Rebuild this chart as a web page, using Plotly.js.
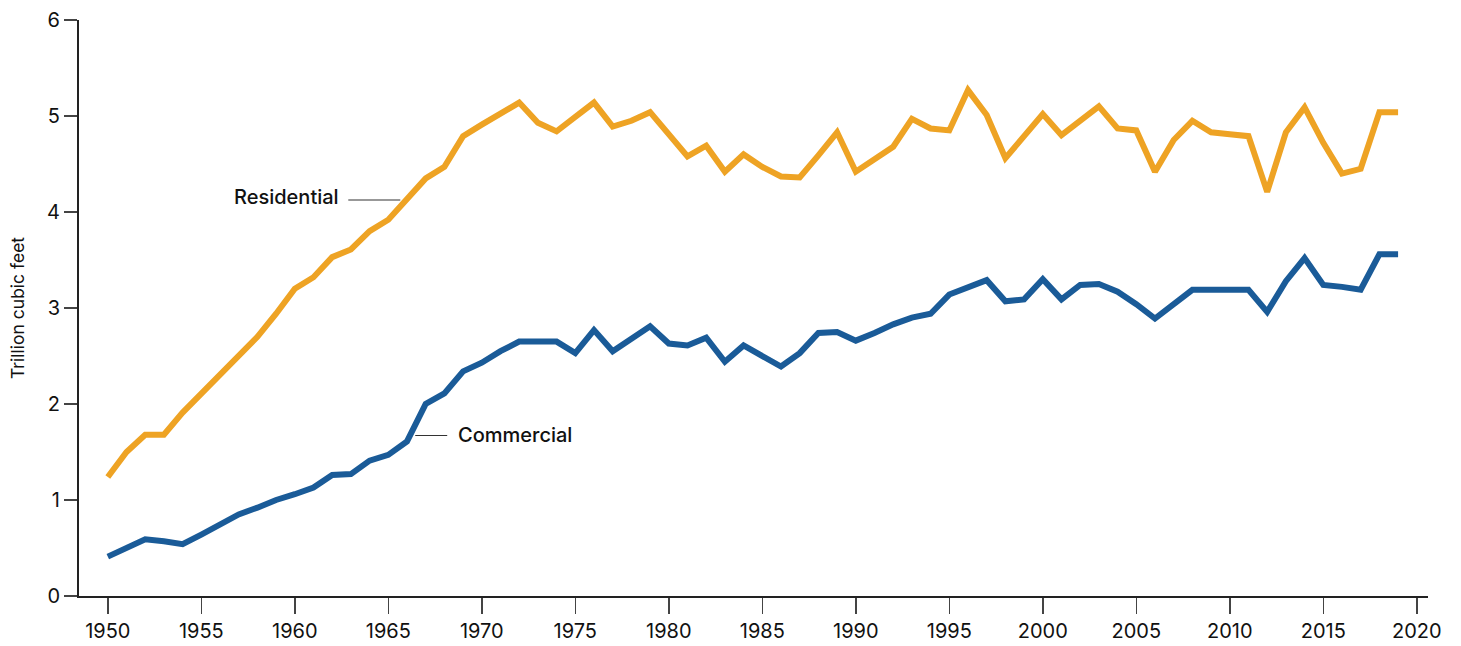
<!DOCTYPE html>
<html>
<head>
<meta charset="utf-8">
<script src="https://cdn.plot.ly/plotly-3.0.1.min.js"></script>
<style>html,body{margin:0;padding:0;background:#fff;}#chart{width:1461px;height:646px;}</style>
</head>
<body>
<div id="chart"></div>
<script>
const years = [1950,1951,1952,1953,1954,1955,1956,1957,1958,1959,1960,1961,1962,1963,1964,1965,1966,1967,1968,1969,1970,1971,1972,1973,1974,1975,1976,1977,1978,1979,1980,1981,1982,1983,1984,1985,1986,1987,1988,1989,1990,1991,1992,1993,1994,1995,1996,1997,1998,1999,2000,2001,2002,2003,2004,2005,2006,2007,2008,2009,2010,2011,2012,2013,2014,2015,2016,2017,2018,2019];
const residential = [1.24,1.50,1.68,1.68,1.91,2.11,2.32,2.51,2.70,2.94,3.20,3.32,3.53,3.61,3.80,3.92,4.14,4.35,4.47,4.79,4.91,5.02,5.14,4.93,4.84,4.99,5.14,4.89,4.95,5.04,4.80,4.58,4.69,4.42,4.60,4.47,4.37,4.36,4.59,4.83,4.42,4.55,4.68,4.97,4.87,4.85,5.27,5.01,4.56,4.79,5.02,4.80,4.95,5.10,4.87,4.85,4.42,4.75,4.95,4.83,4.81,4.79,4.21,4.83,5.09,4.72,4.40,4.45,5.04,5.04];
const commercial = [0.41,0.50,0.59,0.57,0.54,0.64,0.74,0.85,0.92,1.00,1.06,1.13,1.26,1.27,1.41,1.47,1.61,2.00,2.11,2.34,2.43,2.55,2.65,2.65,2.65,2.53,2.77,2.55,2.68,2.81,2.63,2.61,2.69,2.44,2.61,2.50,2.39,2.53,2.74,2.75,2.66,2.74,2.83,2.90,2.94,3.14,3.21,3.29,3.07,3.09,3.30,3.09,3.24,3.25,3.17,3.04,2.89,3.05,3.19,3.19,3.19,3.19,2.96,3.28,3.52,3.24,3.22,3.19,3.56,3.56];
const xTicks = [1950,1955,1960,1965,1970,1975,1980,1985,1990,1995,2000,2005,2010,2015,2020];
const yTicks = [0,1,2,3,4,5,6];
const seriesNames = ['Residential','Commercial'];
const yTitle = 'Trillion cubic feet';

const FONT = 'Inter, "Liberation Sans", sans-serif';
const traces = [
  {x: years, y: residential, type:'scatter', mode:'lines', name: seriesNames[0],
   line:{color:'#EEA324', width:6}, hoverinfo:'skip'},
  {x: years, y: commercial, type:'scatter', mode:'lines', name: seriesNames[1],
   line:{color:'#1A5B98', width:6}, hoverinfo:'skip'}
];
const layout = {
  width:1461, height:646,
  margin:{l:79, r:33, t:20, b:50, pad:0},
  paper_bgcolor:'#fff', plot_bgcolor:'#fff',
  showlegend:false,
  font:{family:FONT, color:'#111', size:20},
  xaxis:{range:[1948.46, 2020.6], tickvals:xTicks, ticktext:xTicks.map(String),
    showgrid:false, zeroline:false, showline:true, linecolor:'#222', linewidth:2,
    ticks:'outside', ticklen:16, tickwidth:1.5, tickcolor:'#444',
    tickfont:{family:FONT, size:20, color:'#111'}, fixedrange:true},
  yaxis:{range:[0,6], tickvals:yTicks, ticktext:yTicks.map(String),
    showgrid:false, zeroline:false, showline:true, linecolor:'#222', linewidth:2,
    ticks:'outside', ticklen:13, tickwidth:1.5, tickcolor:'#444',
    tickfont:{family:FONT, size:20, color:'#111'},
    title:{text:yTitle, font:{family:FONT, size:17.5, color:'#111'}, standoff:18}, fixedrange:true},
  shapes:[
    {type:'line', xref:'x', yref:'y', x0:1962.86, x1:1965.64, y0:4.125, y1:4.125, line:{color:'#333', width:1.2}},
    {type:'line', xref:'x', yref:'y', x0:1966.44, x1:1968.15, y0:1.672, y1:1.672, line:{color:'#333', width:1.2}}
  ],
  annotations:[
    {x:1962.48, y:4.16, xref:'x', yref:'y', text:seriesNames[0], showarrow:false, xanchor:'right', yanchor:'middle',
     font:{family:FONT, size:20, color:'#111', weight:500}},
    {x:1968.63, y:1.68, xref:'x', yref:'y', text:seriesNames[1], showarrow:false, xanchor:'left', yanchor:'middle',
     font:{family:FONT, size:20, color:'#111', weight:500}}
  ]
};
Plotly.newPlot('chart', traces, layout, {displayModeBar:false, staticPlot:true});
</script>
</body>
</html>
